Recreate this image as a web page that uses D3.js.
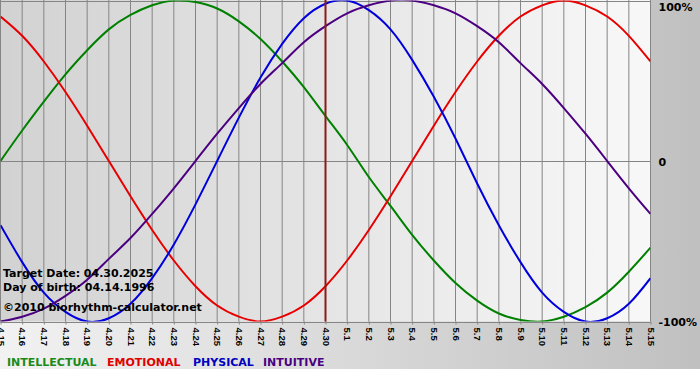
<!DOCTYPE html>
<html>
<head>
<meta charset="utf-8">
<script src="https://cdn.jsdelivr.net/npm/d3@7"></script>
<style>
  html, body { margin: 0; padding: 0; background: #ffffff; }
  svg { display: block; }
</style>
</head>
<body>
<svg id="chart" width="700" height="380"></svg>
<script>
// ---- data ----
const dates = ["4.15","4.16","4.17","4.18","4.19","4.20","4.21","4.22","4.23","4.24","4.25","4.26","4.27","4.28","4.29","4.30",
               "5.1","5.2","5.3","5.4","5.5","5.6","5.7","5.8","5.9","5.10","5.11","5.12","5.13","5.14","5.15"];
const intellectual = [0,0.19,0.37,0.54,0.69,0.82,0.91,0.97,1.00,0.99,0.95,0.87,0.76,0.62,0.46,0.28,
                      0.10,-0.10,-0.28,-0.46,-0.62,-0.76,-0.87,-0.95,-0.99,-1.00,-0.97,-0.91,-0.82,-0.69,-0.54];
const emotional = [0.90,0.78,0.62,0.43,0.22,0,-0.22,-0.43,-0.62,-0.78,-0.90,-0.97,-1.00,-0.97,-0.90,-0.78,
                   -0.62,-0.43,-0.22,0,0.22,0.43,0.62,0.78,0.90,0.97,1.00,0.97,0.90,0.78,0.62];
const physical = [-0.40,-0.63,-0.82,-0.94,-1.00,-0.98,-0.89,-0.73,-0.52,-0.27,0,0.27,0.52,0.73,0.89,0.98,
                  1.00,0.94,0.82,0.63,0.40,0.14,-0.14,-0.40,-0.63,-0.82,-0.94,-1.00,-0.98,-0.89,-0.73];
const intuitive = [-1.00,-0.97,-0.92,-0.84,-0.74,-0.61,-0.48,-0.33,-0.17,0,0.17,0.33,0.48,0.61,0.74,0.84,
                   0.92,0.97,1.00,1.00,0.97,0.92,0.84,0.74,0.61,0.48,0.33,0.17,0,-0.17,-0.33];
const seriesNames = ["INTELLECTUAL","EMOTIONAL","PHYSICAL","INTUITIVE"];
const seriesColors = ["#008000","#e80000","#0000dd","#4b0082"];
const legendColors = ["#1a8a1a","#e00000","#0000c0","#4b0082"];
const yTickValues = [1, 0, -1];
const yTickLabels = ["100%", "0", "-100%"];
const targetDate = "4.30";
const infoLines = ["Target Date: 04.30.2025", "Day of birth: 04.14.1996", "\u00a92010 biorhythm-calculator.net"];

// ---- layout ----
const W = 700, H = 380;
const plotL = 0.5, plotR = 650.5, plotT = 0.5, plotB = 321.5;
const svg = d3.select("#chart");
const defs = svg.append("defs");

const gOuter = defs.append("linearGradient").attr("id","gOuter").attr("x1","0").attr("x2","1").attr("y1","0").attr("y2","0");
gOuter.append("stop").attr("offset","0").attr("stop-color","#f2f2f2");
gOuter.append("stop").attr("offset","1").attr("stop-color","#c0c0c0");
const gPlot = defs.append("linearGradient").attr("id","gPlot").attr("x1","0").attr("x2","1").attr("y1","0").attr("y2","0");
gPlot.append("stop").attr("offset","0").attr("stop-color","#d2d2d2");
gPlot.append("stop").attr("offset","1").attr("stop-color","#f8f8f8");
defs.append("clipPath").attr("id","clip").append("rect")
  .attr("x", plotL).attr("y", plotT).attr("width", plotR - plotL).attr("height", plotB - plotT);

svg.append("rect").attr("x",0).attr("y",0).attr("width",W).attr("height",369).attr("fill","url(#gOuter)");
svg.append("rect").attr("x",plotL).attr("y",0).attr("width",plotR-plotL).attr("height",plotB).attr("fill","url(#gPlot)");

const x = d3.scalePoint().domain(dates).range([plotL, plotR]);
const y = d3.scaleLinear().domain([-1, 1]).range([plotB, plotT]);

// vertical grid lines
svg.append("g").selectAll("line").data(dates).join("line")
  .attr("x1", d => x(d)).attr("x2", d => x(d))
  .attr("y1", 0).attr("y2", plotB)
  .attr("stroke", "#858585").attr("stroke-width", 1);

// horizontal lines: top, zero, bottom
svg.append("g").selectAll("line").data(yTickValues).join("line")
  .attr("x1", plotL).attr("x2", plotR)
  .attr("y1", d => Math.round(y(d)) + 0.5).attr("y2", d => Math.round(y(d)) + 0.5)
  .attr("stroke", "#858585").attr("stroke-width", 1);

// bottom axis
const xAxis = d3.axisBottom(x).tickSize(3).tickPadding(3);
const gx = svg.append("g").attr("transform", `translate(0,${plotB})`).call(xAxis);
gx.select(".domain").remove();
gx.selectAll(".tick line").attr("stroke", "#858585");
gx.selectAll(".tick text")
  .attr("transform", "rotate(90)")
  .attr("x", 6).attr("y", 0).attr("dy", "0.35em")
  .attr("text-anchor", "start")
  .attr("fill", "#000")
  .style("font-family", "'Liberation Sans', Arial, sans-serif")
  .style("font-weight", "bold")
  .style("font-size", "9.5px");

// right axis labels
const yAxis = d3.axisRight(y).tickValues(yTickValues).tickSize(0).tickPadding(8)
  .tickFormat((d, i) => yTickLabels[i]);
const gy = svg.append("g").attr("transform", `translate(${plotR},0)`).call(yAxis);
gy.select(".domain").remove();
gy.selectAll(".tick text")
  .attr("fill", "#000")
  .attr("dy", d => d === 1 ? "0.95em" : "0.38em")
  .style("font-family", "'DejaVu Sans', Verdana, sans-serif")
  .style("font-weight", "bold")
  .style("font-size", "11px");

// curves
const line = d3.line().x((d, i) => x(dates[i])).y(d => y(d)).curve(d3.curveNatural);
const gLines = svg.append("g").attr("clip-path", "url(#clip)");
[intellectual, emotional, physical, intuitive].forEach((s, k) => {
  gLines.append("path").datum(s).attr("d", line)
    .attr("fill", "none").attr("stroke", seriesColors[k]).attr("stroke-width", 2);
});

// target date line
svg.append("line")
  .attr("x1", x(targetDate)).attr("x2", x(targetDate))
  .attr("y1", 0).attr("y2", plotB)
  .attr("stroke", "#8b1a1a").attr("stroke-width", 2);

// info text
const infoY = [277, 291, 311];
svg.append("g").selectAll("text").data(infoLines).join("text")
  .attr("x", 3).attr("y", (d, i) => infoY[i])
  .text(d => d)
  .attr("fill", "#000")
  .style("font-family", "'DejaVu Sans', Verdana, sans-serif")
  .style("font-weight", "bold")
  .style("font-size", "11px");

// legend
const legendX = [7, 107, 193, 263];
svg.append("g").selectAll("text").data(seriesNames).join("text")
  .attr("x", (d, i) => legendX[i]).attr("y", 366)
  .text(d => d)
  .attr("fill", (d, i) => legendColors[i])
  .style("font-family", "'DejaVu Sans', Verdana, sans-serif")
  .style("font-weight", "bold")
  .style("font-size", "11px");
</script>
</body>
</html>
